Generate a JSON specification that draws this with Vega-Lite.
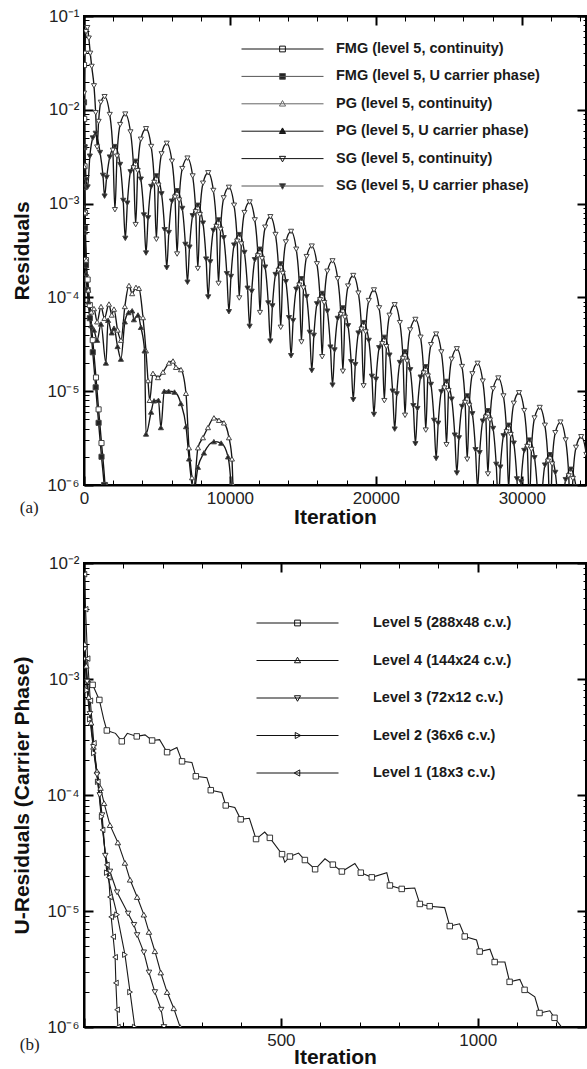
{
"$schema": "https://vega.github.io/schema/vega-lite/v6.json",
"padding": {"left": 10, "top": 6, "right": 0, "bottom": 0},
"spacing": 25,
"config": {
 "view": {"stroke": "#000", "strokeWidth": 2},
 "axis": {"domainColor": "#000", "domainWidth": 2, "tickColor": "#000", "labelFont": "Liberation Sans", "labelFontSize": 17, "labelColor": "#222", "titleFont": "Liberation Sans", "titleFontSize": 21, "titleFontWeight": "bold", "titleColor": "#111", "grid": false, "labelFlush": false, "labelOverlap": false, "labelBound": false},
 "legend": {"labelFont": "Liberation Sans", "labelFontWeight": "bold", "labelFontSize": 14.5, "labelColor": "#1a1a1a", "padding": 0, "labelLimit": 400}
},
"datasets": {
"top": [
{"s":"FMGc","x":3,"y":3.0e-2},{"s":"FMGc","x":15,"y":8e-3},{"s":"FMGc","x":35,"y":2.5e-3},{"s":"FMGc","x":70,"y":8e-4},{"s":"FMGc","x":137,"y":2.5e-4},{"s":"FMGc","x":250,"y":1.55e-4},{"s":"FMGc","x":400,"y":8.3e-5},{"s":"FMGc","x":600,"y":3.5e-5},{"s":"FMGc","x":822,"y":1.4e-5},{"s":"FMGc","x":1000,"y":6.4e-6},{"s":"FMGc","x":1200,"y":2.8e-6},{"s":"FMGc","x":1440,"y":1.0e-6},{"s":"FMGc","x":1500,"y":7e-7},
{"s":"FMGu","x":3,"y":1.2e-2},{"s":"FMGu","x":15,"y":4e-3},{"s":"FMGu","x":35,"y":1.5e-3},{"s":"FMGu","x":70,"y":5.5e-4},{"s":"FMGu","x":137,"y":2.2e-4},{"s":"FMGu","x":250,"y":1.2e-4},{"s":"FMGu","x":400,"y":6.0e-5},{"s":"FMGu","x":600,"y":2.6e-5},{"s":"FMGu","x":800,"y":1.1e-5},{"s":"FMGu","x":1000,"y":4.6e-6},{"s":"FMGu","x":1200,"y":2.0e-6},{"s":"FMGu","x":1380,"y":1.0e-6},{"s":"FMGu","x":1450,"y":7e-7},
{"s":"PGc","x":3,"y":2.5e-3},{"s":"PGc","x":20,"y":1.5e-3},{"s":"PGc","x":60,"y":8e-4},{"s":"PGc","x":150,"y":2.5e-4},{"s":"PGc","x":300,"y":1.2e-4},{"s":"PGc","x":500,"y":7e-5},{"s":"PGc","x":685,"y":7.6e-5},{"s":"PGc","x":900,"y":5.5e-5},{"s":"PGc","x":1165,"y":8.0e-5},{"s":"PGc","x":1400,"y":6.0e-5},{"s":"PGc","x":1712,"y":8.5e-5},{"s":"PGc","x":1900,"y":6.5e-5},{"s":"PGc","x":2055,"y":7.5e-5},{"s":"PGc","x":2300,"y":4.5e-5},{"s":"PGc","x":2535,"y":3.5e-5},{"s":"PGc","x":2800,"y":8.0e-5},{"s":"PGc","x":3083,"y":1.34e-4},{"s":"PGc","x":3300,"y":1.1e-4},{"s":"PGc","x":3562,"y":1.28e-4},{"s":"PGc","x":3768,"y":1.25e-4},{"s":"PGc","x":4042,"y":6.1e-5},{"s":"PGc","x":4247,"y":2.7e-5},{"s":"PGc","x":4384,"y":1.3e-5},{"s":"PGc","x":4500,"y":8.0e-6},{"s":"PGc","x":4726,"y":1.55e-5},{"s":"PGc","x":5069,"y":1.4e-5},{"s":"PGc","x":5412,"y":1.6e-5},{"s":"PGc","x":5822,"y":2.0e-5},{"s":"PGc","x":6100,"y":2.1e-5},{"s":"PGc","x":6302,"y":1.8e-5},{"s":"PGc","x":6645,"y":1.7e-5},{"s":"PGc","x":6987,"y":9.5e-6},{"s":"PGc","x":7193,"y":2.5e-6},{"s":"PGc","x":7400,"y":1.2e-6},{"s":"PGc","x":7500,"y":8.5e-7},{"s":"PGc","x":7809,"y":2.5e-6},{"s":"PGc","x":8152,"y":3.2e-6},{"s":"PGc","x":8494,"y":4.1e-6},{"s":"PGc","x":8905,"y":5.2e-6},{"s":"PGc","x":9248,"y":4.9e-6},{"s":"PGc","x":9590,"y":4.6e-6},{"s":"PGc","x":9933,"y":3.2e-6},{"s":"PGc","x":10138,"y":1.9e-6},{"s":"PGc","x":10207,"y":1.0e-6},{"s":"PGc","x":10300,"y":5e-7},
{"s":"PGu","x":3,"y":1.5e-3},{"s":"PGu","x":20,"y":9e-4},{"s":"PGu","x":60,"y":5e-4},{"s":"PGu","x":150,"y":1.8e-4},{"s":"PGu","x":300,"y":9e-5},{"s":"PGu","x":500,"y":5e-5},{"s":"PGu","x":685,"y":4.5e-5},{"s":"PGu","x":900,"y":3.5e-5},{"s":"PGu","x":1165,"y":5.2e-5},{"s":"PGu","x":1500,"y":2.0e-5},{"s":"PGu","x":1650,"y":5.7e-5},{"s":"PGu","x":1900,"y":4.2e-5},{"s":"PGu","x":2055,"y":4.7e-5},{"s":"PGu","x":2300,"y":3.0e-5},{"s":"PGu","x":2530,"y":2.2e-5},{"s":"PGu","x":2800,"y":5.5e-5},{"s":"PGu","x":3050,"y":6.9e-5},{"s":"PGu","x":3300,"y":7.2e-5},{"s":"PGu","x":3420,"y":5.8e-5},{"s":"PGu","x":3700,"y":6.5e-5},{"s":"PGu","x":3900,"y":4.8e-5},{"s":"PGu","x":4150,"y":2.7e-5},{"s":"PGu","x":4250,"y":3.5e-6},{"s":"PGu","x":4600,"y":6.0e-6},{"s":"PGu","x":4800,"y":7.9e-6},{"s":"PGu","x":5100,"y":8.0e-6},{"s":"PGu","x":5270,"y":4.1e-6},{"s":"PGu","x":5500,"y":1.0e-5},{"s":"PGu","x":5800,"y":1.0e-5},{"s":"PGu","x":6200,"y":9.8e-6},{"s":"PGu","x":6640,"y":7.4e-6},{"s":"PGu","x":6990,"y":4.2e-6},{"s":"PGu","x":7200,"y":1.9e-6},{"s":"PGu","x":7400,"y":1.0e-6},{"s":"PGu","x":7500,"y":8e-7},{"s":"PGu","x":7809,"y":1.55e-6},{"s":"PGu","x":8220,"y":2.2e-6},{"s":"PGu","x":8900,"y":2.9e-6},{"s":"PGu","x":9400,"y":2.8e-6},{"s":"PGu","x":9870,"y":2.0e-6},{"s":"PGu","x":10080,"y":1.0e-6},{"s":"PGu","x":10200,"y":5e-7},
{"s":"SGc","x":5,"y":1.5e-2},{"s":"SGc","x":60,"y":4.0e-2},{"s":"SGc","x":140,"y":6.8e-2},{"s":"SGc","x":226,"y":7.5e-2},{"s":"SGc","x":330,"y":5.8e-2},{"s":"SGc","x":430,"y":4.0e-2},{"s":"SGc","x":527,"y":2.9e-2},{"s":"SGc","x":685,"y":1.8e-2},{"s":"SGc","x":800,"y":9.3e-3},
{"s":"SGc","x":900,"y":4.0e-3},{"s":"SGc","x":1000,"y":7.5e-3},{"s":"SGc","x":1150,"y":1.2e-2},{"s":"SGc","x":1410,"y":1.38e-2},{"s":"SGc","x":1765,"y":8.9e-3},{"s":"SGc","x":1978,"y":3.7e-3},
{"s":"SGc","x":2120,"y":8.6e-4},{"s":"SGc","x":2262,"y":3.2e-3},{"s":"SGc","x":2475,"y":6.95e-3},{"s":"SGc","x":2830,"y":9.0e-3},{"s":"SGc","x":3185,"y":5.8e-3},{"s":"SGc","x":3398,"y":2.4e-3},
{"s":"SGc","x":3540,"y":5.97e-4},{"s":"SGc","x":3682,"y":2.24e-3},{"s":"SGc","x":3895,"y":4.85e-3},{"s":"SGc","x":4250,"y":6.28e-3},{"s":"SGc","x":4605,"y":4.06e-3},{"s":"SGc","x":4818,"y":1.68e-3},
{"s":"SGc","x":4960,"y":4.17e-4},{"s":"SGc","x":5102,"y":1.57e-3},{"s":"SGc","x":5315,"y":3.39e-3},{"s":"SGc","x":5670,"y":4.39e-3},{"s":"SGc","x":6025,"y":2.83e-3},{"s":"SGc","x":6238,"y":1.17e-3},
{"s":"SGc","x":6380,"y":2.90e-4},{"s":"SGc","x":6522,"y":1.09e-3},{"s":"SGc","x":6735,"y":2.36e-3},{"s":"SGc","x":7090,"y":3.05e-3},{"s":"SGc","x":7445,"y":1.97e-3},{"s":"SGc","x":7658,"y":8.17e-4},
{"s":"SGc","x":7800,"y":2.03e-4},{"s":"SGc","x":7942,"y":7.62e-4},{"s":"SGc","x":8155,"y":1.65e-3},{"s":"SGc","x":8510,"y":2.13e-3},{"s":"SGc","x":8865,"y":1.38e-3},{"s":"SGc","x":9078,"y":5.70e-4},
{"s":"SGc","x":9220,"y":1.41e-4},{"s":"SGc","x":9362,"y":5.31e-4},{"s":"SGc","x":9575,"y":1.15e-3},{"s":"SGc","x":9930,"y":1.49e-3},{"s":"SGc","x":10285,"y":9.60e-4},{"s":"SGc","x":10498,"y":3.97e-4},
{"s":"SGc","x":10640,"y":9.86e-5},{"s":"SGc","x":10782,"y":3.71e-4},{"s":"SGc","x":10995,"y":8.02e-4},{"s":"SGc","x":11350,"y":1.04e-3},{"s":"SGc","x":11705,"y":6.70e-4},{"s":"SGc","x":11918,"y":2.77e-4},
{"s":"SGc","x":12060,"y":6.89e-5},{"s":"SGc","x":12202,"y":2.59e-4},{"s":"SGc","x":12415,"y":5.60e-4},{"s":"SGc","x":12770,"y":7.24e-4},{"s":"SGc","x":13125,"y":4.68e-4},{"s":"SGc","x":13338,"y":1.94e-4},
{"s":"SGc","x":13480,"y":4.80e-5},{"s":"SGc","x":13622,"y":1.80e-4},{"s":"SGc","x":13835,"y":3.90e-4},{"s":"SGc","x":14190,"y":5.05e-4},{"s":"SGc","x":14545,"y":3.26e-4},{"s":"SGc","x":14758,"y":1.35e-4},
{"s":"SGc","x":14900,"y":3.35e-5},{"s":"SGc","x":15042,"y":1.26e-4},{"s":"SGc","x":15255,"y":2.72e-4},{"s":"SGc","x":15610,"y":3.52e-4},{"s":"SGc","x":15965,"y":2.28e-4},{"s":"SGc","x":16178,"y":9.42e-5},
{"s":"SGc","x":16320,"y":2.33e-5},{"s":"SGc","x":16462,"y":8.77e-5},{"s":"SGc","x":16675,"y":1.90e-4},{"s":"SGc","x":17030,"y":2.45e-4},{"s":"SGc","x":17385,"y":1.58e-4},{"s":"SGc","x":17598,"y":6.56e-5},
{"s":"SGc","x":17740,"y":1.63e-5},{"s":"SGc","x":17882,"y":6.12e-5},{"s":"SGc","x":18095,"y":1.32e-4},{"s":"SGc","x":18450,"y":1.71e-4},{"s":"SGc","x":18805,"y":1.11e-4},{"s":"SGc","x":19018,"y":4.58e-5},
{"s":"SGc","x":19160,"y":1.14e-5},{"s":"SGc","x":19302,"y":4.28e-5},{"s":"SGc","x":19515,"y":9.25e-5},{"s":"SGc","x":19870,"y":1.20e-4},{"s":"SGc","x":20225,"y":7.73e-5},{"s":"SGc","x":20438,"y":3.20e-5},
{"s":"SGc","x":20580,"y":7.93e-6},{"s":"SGc","x":20722,"y":2.98e-5},{"s":"SGc","x":20935,"y":6.44e-5},{"s":"SGc","x":21290,"y":8.34e-5},{"s":"SGc","x":21645,"y":5.38e-5},{"s":"SGc","x":21858,"y":2.23e-5},
{"s":"SGc","x":22000,"y":5.53e-6},{"s":"SGc","x":22142,"y":2.08e-5},{"s":"SGc","x":22355,"y":4.50e-5},{"s":"SGc","x":22710,"y":5.82e-5},{"s":"SGc","x":23065,"y":3.76e-5},{"s":"SGc","x":23278,"y":1.56e-5},
{"s":"SGc","x":23420,"y":3.85e-6},{"s":"SGc","x":23562,"y":1.45e-5},{"s":"SGc","x":23775,"y":3.13e-5},{"s":"SGc","x":24130,"y":4.06e-5},{"s":"SGc","x":24485,"y":2.62e-5},{"s":"SGc","x":24698,"y":1.08e-5},
{"s":"SGc","x":24840,"y":2.69e-6},{"s":"SGc","x":24982,"y":1.01e-5},{"s":"SGc","x":25195,"y":2.19e-5},{"s":"SGc","x":25550,"y":2.83e-5},{"s":"SGc","x":25905,"y":1.83e-5},{"s":"SGc","x":26118,"y":7.57e-6},
{"s":"SGc","x":26260,"y":1.88e-6},{"s":"SGc","x":26402,"y":7.06e-6},{"s":"SGc","x":26615,"y":1.53e-5},{"s":"SGc","x":26970,"y":1.98e-5},{"s":"SGc","x":27325,"y":1.28e-5},{"s":"SGc","x":27538,"y":5.28e-6},
{"s":"SGc","x":27680,"y":1.31e-6},{"s":"SGc","x":27822,"y":4.92e-6},{"s":"SGc","x":28035,"y":1.06e-5},{"s":"SGc","x":28390,"y":1.38e-5},{"s":"SGc","x":28745,"y":8.89e-6},{"s":"SGc","x":28958,"y":3.68e-6},
{"s":"SGc","x":29100,"y":9.14e-7},{"s":"SGc","x":29242,"y":3.44e-6},{"s":"SGc","x":29455,"y":7.43e-6},{"s":"SGc","x":29810,"y":9.62e-6},{"s":"SGc","x":30165,"y":6.21e-6},{"s":"SGc","x":30378,"y":2.57e-6},
{"s":"SGc","x":30520,"y":6.37e-7},{"s":"SGc","x":30662,"y":2.39e-6},{"s":"SGc","x":30875,"y":5.18e-6},{"s":"SGc","x":31230,"y":6.70e-6},{"s":"SGc","x":31585,"y":4.33e-6},{"s":"SGc","x":31798,"y":1.79e-6},
{"s":"SGc","x":31940,"y":4.45e-7},{"s":"SGc","x":32082,"y":1.67e-6},{"s":"SGc","x":32295,"y":3.61e-6},{"s":"SGc","x":32650,"y":4.68e-6},{"s":"SGc","x":33005,"y":3.02e-6},{"s":"SGc","x":33218,"y":1.25e-6},
{"s":"SGc","x":33360,"y":3.10e-7},{"s":"SGc","x":33502,"y":1.17e-6},{"s":"SGc","x":33715,"y":2.52e-6},{"s":"SGc","x":34070,"y":3.27e-6},{"s":"SGc","x":34425,"y":2.11e-6},{"s":"SGc","x":34638,"y":8.73e-7},{"s":"SGc","x":34780,"y":2.5e-7},
{"s":"SGu","x":5,"y":1.2e-2},{"s":"SGu","x":60,"y":4.0e-3},{"s":"SGu","x":150,"y":1.8e-3},{"s":"SGu","x":250,"y":1.5e-3},{"s":"SGu","x":400,"y":3.2e-3},{"s":"SGu","x":600,"y":5.0e-3},{"s":"SGu","x":800,"y":5.6e-3},{"s":"SGu","x":1100,"y":3.5e-3},{"s":"SGu","x":1300,"y":2.0e-3},
{"s":"SGu","x":1410,"y":1.2e-3},{"s":"SGu","x":1552,"y":1.9e-3},{"s":"SGu","x":1765,"y":3.13e-3},{"s":"SGu","x":2120,"y":4.05e-3},{"s":"SGu","x":2475,"y":2.61e-3},{"s":"SGu","x":2688,"y":1.08e-3},
{"s":"SGu","x":2830,"y":4.26e-4},{"s":"SGu","x":2972,"y":1.01e-3},{"s":"SGu","x":3185,"y":2.18e-3},{"s":"SGu","x":3540,"y":2.82e-3},{"s":"SGu","x":3895,"y":1.82e-3},{"s":"SGu","x":4108,"y":7.55e-4},
{"s":"SGu","x":4250,"y":2.97e-4},{"s":"SGu","x":4392,"y":7.05e-4},{"s":"SGu","x":4605,"y":1.52e-3},{"s":"SGu","x":4960,"y":1.97e-3},{"s":"SGu","x":5315,"y":1.27e-3},{"s":"SGu","x":5528,"y":5.27e-4},
{"s":"SGu","x":5670,"y":2.07e-4},{"s":"SGu","x":5812,"y":4.91e-4},{"s":"SGu","x":6025,"y":1.06e-3},{"s":"SGu","x":6380,"y":1.37e-3},{"s":"SGu","x":6735,"y":8.87e-4},{"s":"SGu","x":6948,"y":3.67e-4},
{"s":"SGu","x":7090,"y":1.45e-4},{"s":"SGu","x":7232,"y":3.43e-4},{"s":"SGu","x":7445,"y":7.41e-4},{"s":"SGu","x":7800,"y":9.59e-4},{"s":"SGu","x":8155,"y":6.19e-4},{"s":"SGu","x":8368,"y":2.56e-4},
{"s":"SGu","x":8510,"y":1.01e-4},{"s":"SGu","x":8652,"y":2.39e-4},{"s":"SGu","x":8865,"y":5.16e-4},{"s":"SGu","x":9220,"y":6.68e-4},{"s":"SGu","x":9575,"y":4.32e-4},{"s":"SGu","x":9788,"y":1.79e-4},
{"s":"SGu","x":9930,"y":7.03e-5},{"s":"SGu","x":10072,"y":1.67e-4},{"s":"SGu","x":10285,"y":3.61e-4},{"s":"SGu","x":10640,"y":4.67e-4},{"s":"SGu","x":10995,"y":3.01e-4},{"s":"SGu","x":11208,"y":1.25e-4},
{"s":"SGu","x":11350,"y":4.91e-5},{"s":"SGu","x":11492,"y":1.16e-4},{"s":"SGu","x":11705,"y":2.52e-4},{"s":"SGu","x":12060,"y":3.26e-4},{"s":"SGu","x":12415,"y":2.10e-4},{"s":"SGu","x":12628,"y":8.71e-5},
{"s":"SGu","x":12770,"y":3.42e-5},{"s":"SGu","x":12912,"y":8.11e-5},{"s":"SGu","x":13125,"y":1.75e-4},{"s":"SGu","x":13480,"y":2.27e-4},{"s":"SGu","x":13835,"y":1.47e-4},{"s":"SGu","x":14048,"y":6.07e-5},
{"s":"SGu","x":14190,"y":2.39e-5},{"s":"SGu","x":14332,"y":5.66e-5},{"s":"SGu","x":14545,"y":1.22e-4},{"s":"SGu","x":14900,"y":1.58e-4},{"s":"SGu","x":15255,"y":1.02e-4},{"s":"SGu","x":15468,"y":4.24e-5},
{"s":"SGu","x":15610,"y":1.66e-5},{"s":"SGu","x":15752,"y":3.94e-5},{"s":"SGu","x":15965,"y":8.53e-5},{"s":"SGu","x":16320,"y":1.10e-4},{"s":"SGu","x":16675,"y":7.13e-5},{"s":"SGu","x":16888,"y":2.95e-5},
{"s":"SGu","x":17030,"y":1.16e-5},{"s":"SGu","x":17172,"y":2.75e-5},{"s":"SGu","x":17385,"y":5.96e-5},{"s":"SGu","x":17740,"y":7.71e-5},{"s":"SGu","x":18095,"y":4.98e-5},{"s":"SGu","x":18308,"y":2.06e-5},
{"s":"SGu","x":18450,"y":8.11e-6},{"s":"SGu","x":18592,"y":1.92e-5},{"s":"SGu","x":18805,"y":4.16e-5},{"s":"SGu","x":19160,"y":5.38e-5},{"s":"SGu","x":19515,"y":3.48e-5},{"s":"SGu","x":19728,"y":1.44e-5},
{"s":"SGu","x":19870,"y":5.65e-6},{"s":"SGu","x":20012,"y":1.34e-5},{"s":"SGu","x":20225,"y":2.90e-5},{"s":"SGu","x":20580,"y":3.75e-5},{"s":"SGu","x":20935,"y":2.42e-5},{"s":"SGu","x":21148,"y":1.00e-5},
{"s":"SGu","x":21290,"y":3.94e-6},{"s":"SGu","x":21432,"y":9.35e-6},{"s":"SGu","x":21645,"y":2.02e-5},{"s":"SGu","x":22000,"y":2.62e-5},{"s":"SGu","x":22355,"y":1.69e-5},{"s":"SGu","x":22568,"y":7.00e-6},
{"s":"SGu","x":22710,"y":2.75e-6},{"s":"SGu","x":22852,"y":6.52e-6},{"s":"SGu","x":23065,"y":1.41e-5},{"s":"SGu","x":23420,"y":1.82e-5},{"s":"SGu","x":23775,"y":1.18e-5},{"s":"SGu","x":23988,"y":4.88e-6},
{"s":"SGu","x":24130,"y":1.92e-6},{"s":"SGu","x":24272,"y":4.55e-6},{"s":"SGu","x":24485,"y":9.84e-6},{"s":"SGu","x":24840,"y":1.27e-5},{"s":"SGu","x":25195,"y":8.22e-6},{"s":"SGu","x":25408,"y":3.40e-6},
{"s":"SGu","x":25550,"y":1.34e-6},{"s":"SGu","x":25692,"y":3.18e-6},{"s":"SGu","x":25905,"y":6.87e-6},{"s":"SGu","x":26260,"y":8.89e-6},{"s":"SGu","x":26615,"y":5.74e-6},{"s":"SGu","x":26828,"y":2.38e-6},
{"s":"SGu","x":26970,"y":9.33e-7},{"s":"SGu","x":27112,"y":2.21e-6},{"s":"SGu","x":27325,"y":4.79e-6},{"s":"SGu","x":27680,"y":6.19e-6},{"s":"SGu","x":28035,"y":4.00e-6},{"s":"SGu","x":28248,"y":1.66e-6},
{"s":"SGu","x":28390,"y":6.52e-7},{"s":"SGu","x":28532,"y":1.55e-6},{"s":"SGu","x":28745,"y":3.34e-6},{"s":"SGu","x":29100,"y":4.33e-6},{"s":"SGu","x":29455,"y":2.79e-6},{"s":"SGu","x":29668,"y":1.16e-6},
{"s":"SGu","x":29810,"y":4.54e-7},{"s":"SGu","x":29952,"y":1.08e-6},{"s":"SGu","x":30165,"y":2.33e-6},{"s":"SGu","x":30520,"y":3.01e-6},{"s":"SGu","x":30875,"y":1.95e-6},{"s":"SGu","x":31088,"y":8.05e-7},
{"s":"SGu","x":31230,"y":3.17e-7},{"s":"SGu","x":31372,"y":7.52e-7},{"s":"SGu","x":31585,"y":1.63e-6},{"s":"SGu","x":31940,"y":2.10e-6},{"s":"SGu","x":32295,"y":1.36e-6},{"s":"SGu","x":32508,"y":5.62e-7},
{"s":"SGu","x":32650,"y":2.21e-7},{"s":"SGu","x":32792,"y":5.25e-7},{"s":"SGu","x":33005,"y":1.14e-6},{"s":"SGu","x":33360,"y":1.47e-6},{"s":"SGu","x":33715,"y":9.48e-7},{"s":"SGu","x":33928,"y":3.93e-7},
{"s":"SGu","x":34070,"y":1.54e-7},{"s":"SGu","x":34212,"y":3.66e-7},{"s":"SGu","x":34425,"y":7.91e-7},{"s":"SGu","x":34780,"y":1.02e-6}
],
"bl": [
{"s":"L5","x":10,"y":1.0e-3},{"s":"L5","x":22,"y":8.9e-4},{"s":"L5","x":39,"y":6.6e-4},{"s":"L5","x":50,"y":4.5e-4},{"s":"L5","x":58,"y":3.6e-4},{"s":"L5","x":80,"y":3.4e-4},{"s":"L5","x":96,"y":2.9e-4},{"s":"L5","x":110,"y":3.4e-4},{"s":"L5","x":134,"y":3.2e-4},{"s":"L5","x":155,"y":3.3e-4},{"s":"L5","x":173,"y":2.95e-4},{"s":"L5","x":192,"y":3.0e-4},{"s":"L5","x":211,"y":2.34e-4},{"s":"L5","x":236,"y":2.57e-4},{"s":"L5","x":249,"y":1.95e-4},{"s":"L5","x":274,"y":1.91e-4},{"s":"L5","x":284,"y":1.45e-4},{"s":"L5","x":312,"y":1.41e-4},{"s":"L5","x":322,"y":1.10e-4},{"s":"L5","x":350,"y":1.05e-4},{"s":"L5","x":360,"y":8.13e-5},{"s":"L5","x":383,"y":7.8e-5},{"s":"L5","x":398,"y":6.17e-5},{"s":"L5","x":420,"y":6.3e-5},{"s":"L5","x":437,"y":4.17e-5},{"s":"L5","x":459,"y":4.79e-5},{"s":"L5","x":472,"y":4.27e-5},{"s":"L5","x":503,"y":3.09e-5},{"s":"L5","x":510,"y":2.63e-5},{"s":"L5","x":523,"y":2.95e-5},{"s":"L5","x":545,"y":3.16e-5},{"s":"L5","x":561,"y":2.75e-5},{"s":"L5","x":587,"y":2.29e-5},{"s":"L5","x":612,"y":2.82e-5},{"s":"L5","x":632,"y":2.51e-5},{"s":"L5","x":655,"y":2.19e-5},{"s":"L5","x":688,"y":2.57e-5},{"s":"L5","x":703,"y":2.14e-5},{"s":"L5","x":731,"y":1.95e-5},{"s":"L5","x":769,"y":2.14e-5},{"s":"L5","x":777,"y":1.66e-5},{"s":"L5","x":807,"y":1.55e-5},{"s":"L5","x":840,"y":1.58e-5},{"s":"L5","x":853,"y":1.15e-5},{"s":"L5","x":878,"y":1.10e-5},{"s":"L5","x":916,"y":1.07e-5},{"s":"L5","x":929,"y":7.41e-6},{"s":"L5","x":954,"y":7.76e-6},{"s":"L5","x":967,"y":6.03e-6},{"s":"L5","x":997,"y":5.62e-6},{"s":"L5","x":1005,"y":4.47e-6},{"s":"L5","x":1031,"y":4.68e-6},{"s":"L5","x":1043,"y":3.63e-6},{"s":"L5","x":1069,"y":3.63e-6},{"s":"L5","x":1081,"y":2.45e-6},{"s":"L5","x":1107,"y":2.57e-6},{"s":"L5","x":1119,"y":2.09e-6},{"s":"L5","x":1145,"y":1.82e-6},{"s":"L5","x":1157,"y":1.32e-6},{"s":"L5","x":1183,"y":1.38e-6},{"s":"L5","x":1195,"y":1.20e-6},{"s":"L5","x":1213,"y":1.0e-6},{"s":"L5","x":1240,"y":7.0e-7},
{"s":"L4","x":2,"y":2.0e-3},{"s":"L4","x":6,"y":1.3e-3},{"s":"L4","x":12,"y":7.0e-4},{"s":"L4","x":18,"y":4.2e-4},{"s":"L4","x":24,"y":2.6e-4},{"s":"L4","x":33,"y":1.6e-4},{"s":"L4","x":42,"y":1.15e-4},{"s":"L4","x":51,"y":8.5e-5},{"s":"L4","x":66,"y":5.5e-5},{"s":"L4","x":86,"y":3.9e-5},{"s":"L4","x":104,"y":2.6e-5},{"s":"L4","x":117,"y":1.86e-5},{"s":"L4","x":135,"y":1.32e-5},{"s":"L4","x":152,"y":9.3e-6},{"s":"L4","x":165,"y":6.6e-6},{"s":"L4","x":180,"y":4.5e-6},{"s":"L4","x":195,"y":2.95e-6},{"s":"L4","x":211,"y":2.0e-6},{"s":"L4","x":228,"y":1.45e-6},{"s":"L4","x":244,"y":1.0e-6},
{"s":"L3","x":2,"y":1.8e-3},{"s":"L3","x":8,"y":9.5e-4},{"s":"L3","x":15,"y":5.0e-4},{"s":"L3","x":24,"y":2.6e-4},{"s":"L3","x":33,"y":1.5e-4},{"s":"L3","x":40,"y":1.0e-4},{"s":"L3","x":46,"y":6.7e-5},{"s":"L3","x":54,"y":3.0e-5},{"s":"L3","x":66,"y":2.19e-5},{"s":"L3","x":84,"y":1.45e-5},{"s":"L3","x":112,"y":9.5e-6},{"s":"L3","x":127,"y":7.6e-6},{"s":"L3","x":135,"y":6.2e-6},{"s":"L3","x":152,"y":4.4e-6},{"s":"L3","x":165,"y":2.95e-6},{"s":"L3","x":180,"y":2.0e-6},{"s":"L3","x":196,"y":1.41e-6},{"s":"L3","x":203,"y":1.0e-6},
{"s":"L2","x":2,"y":1.5e-3},{"s":"L2","x":8,"y":8.0e-4},{"s":"L2","x":15,"y":4.5e-4},{"s":"L2","x":25,"y":2.3e-4},{"s":"L2","x":35,"y":1.3e-4},{"s":"L2","x":45,"y":6.5e-5},{"s":"L2","x":58,"y":2.14e-5},{"s":"L2","x":84,"y":9.3e-6},{"s":"L2","x":104,"y":4.2e-6},{"s":"L2","x":117,"y":2.0e-6},{"s":"L2","x":129,"y":1.0e-6},
{"s":"L1","x":1,"y":8.0e-3},{"s":"L1","x":4,"y":4.0e-3},{"s":"L1","x":9,"y":1.5e-3},{"s":"L1","x":16,"y":6.5e-4},{"s":"L1","x":25,"y":2.8e-4},{"s":"L1","x":35,"y":1.3e-4},{"s":"L1","x":47,"y":5.0e-5},{"s":"L1","x":58,"y":2.5e-5},{"s":"L1","x":63,"y":1.95e-5},{"s":"L1","x":66,"y":1.32e-5},{"s":"L1","x":69,"y":8.9e-6},{"s":"L1","x":74,"y":6.0e-6},{"s":"L1","x":79,"y":4.0e-6},{"s":"L1","x":81,"y":2.4e-6},{"s":"L1","x":84,"y":1.41e-6},{"s":"L1","x":86,"y":1.0e-6}
],
"bm": [
{"s":"L5","x":22,"y":8.9e-4},{"s":"L5","x":39,"y":6.6e-4},{"s":"L5","x":58,"y":3.6e-4},{"s":"L5","x":96,"y":2.9e-4},{"s":"L5","x":134,"y":3.2e-4},{"s":"L5","x":173,"y":2.95e-4},{"s":"L5","x":211,"y":2.34e-4},{"s":"L5","x":249,"y":1.95e-4},{"s":"L5","x":284,"y":1.45e-4},{"s":"L5","x":322,"y":1.10e-4},{"s":"L5","x":360,"y":8.13e-5},{"s":"L5","x":398,"y":6.17e-5},{"s":"L5","x":437,"y":4.17e-5},{"s":"L5","x":472,"y":4.27e-5},{"s":"L5","x":503,"y":3.09e-5},{"s":"L5","x":523,"y":2.95e-5},{"s":"L5","x":561,"y":2.75e-5},{"s":"L5","x":587,"y":2.29e-5},{"s":"L5","x":632,"y":2.51e-5},{"s":"L5","x":655,"y":2.19e-5},{"s":"L5","x":703,"y":2.14e-5},{"s":"L5","x":731,"y":1.95e-5},{"s":"L5","x":777,"y":1.66e-5},{"s":"L5","x":807,"y":1.55e-5},{"s":"L5","x":853,"y":1.15e-5},{"s":"L5","x":878,"y":1.10e-5},{"s":"L5","x":929,"y":7.41e-6},{"s":"L5","x":967,"y":6.03e-6},{"s":"L5","x":1005,"y":4.47e-6},{"s":"L5","x":1043,"y":3.63e-6},{"s":"L5","x":1081,"y":2.45e-6},{"s":"L5","x":1119,"y":2.09e-6},{"s":"L5","x":1157,"y":1.32e-6},{"s":"L5","x":1195,"y":1.20e-6},
{"s":"L4","x":2,"y":2.0e-3},{"s":"L4","x":6,"y":1.3e-3},{"s":"L4","x":12,"y":7.0e-4},{"s":"L4","x":18,"y":4.2e-4},{"s":"L4","x":24,"y":2.6e-4},{"s":"L4","x":33,"y":1.6e-4},{"s":"L4","x":42,"y":1.15e-4},{"s":"L4","x":51,"y":8.5e-5},{"s":"L4","x":66,"y":5.5e-5},{"s":"L4","x":86,"y":3.9e-5},{"s":"L4","x":104,"y":2.6e-5},{"s":"L4","x":117,"y":1.86e-5},{"s":"L4","x":135,"y":1.32e-5},{"s":"L4","x":152,"y":9.3e-6},{"s":"L4","x":165,"y":6.6e-6},{"s":"L4","x":180,"y":4.5e-6},{"s":"L4","x":195,"y":2.95e-6},{"s":"L4","x":211,"y":2.0e-6},{"s":"L4","x":228,"y":1.45e-6},{"s":"L4","x":244,"y":1.0e-6},
{"s":"L3","x":2,"y":1.8e-3},{"s":"L3","x":8,"y":9.5e-4},{"s":"L3","x":15,"y":5.0e-4},{"s":"L3","x":24,"y":2.6e-4},{"s":"L3","x":33,"y":1.5e-4},{"s":"L3","x":40,"y":1.0e-4},{"s":"L3","x":46,"y":6.7e-5},{"s":"L3","x":54,"y":3.0e-5},{"s":"L3","x":66,"y":2.19e-5},{"s":"L3","x":84,"y":1.45e-5},{"s":"L3","x":112,"y":9.5e-6},{"s":"L3","x":127,"y":7.6e-6},{"s":"L3","x":135,"y":6.2e-6},{"s":"L3","x":152,"y":4.4e-6},{"s":"L3","x":165,"y":2.95e-6},{"s":"L3","x":180,"y":2.0e-6},{"s":"L3","x":196,"y":1.41e-6},{"s":"L3","x":203,"y":1.0e-6},
{"s":"L2","x":2,"y":1.5e-3},{"s":"L2","x":8,"y":8.0e-4},{"s":"L2","x":15,"y":4.5e-4},{"s":"L2","x":25,"y":2.3e-4},{"s":"L2","x":35,"y":1.3e-4},{"s":"L2","x":45,"y":6.5e-5},{"s":"L2","x":58,"y":2.14e-5},{"s":"L2","x":84,"y":9.3e-6},{"s":"L2","x":104,"y":4.2e-6},{"s":"L2","x":117,"y":2.0e-6},{"s":"L2","x":129,"y":1.0e-6},
{"s":"L1","x":1,"y":8.0e-3},{"s":"L1","x":4,"y":4.0e-3},{"s":"L1","x":9,"y":1.5e-3},{"s":"L1","x":16,"y":6.5e-4},{"s":"L1","x":25,"y":2.8e-4},{"s":"L1","x":35,"y":1.3e-4},{"s":"L1","x":47,"y":5.0e-5},{"s":"L1","x":58,"y":2.5e-5},{"s":"L1","x":63,"y":1.95e-5},{"s":"L1","x":66,"y":1.32e-5},{"s":"L1","x":69,"y":8.9e-6},{"s":"L1","x":74,"y":6.0e-6},{"s":"L1","x":79,"y":4.0e-6},{"s":"L1","x":81,"y":2.4e-6},{"s":"L1","x":84,"y":1.41e-6},{"s":"L1","x":86,"y":1.0e-6}
]
},
"vconcat": [
{
 "width": 502, "height": 469,
 "title": {"text": "(a)", "orient": "bottom", "anchor": "start", "frame": "bounds", "offset": -27, "dx": 8, "font": "Liberation Serif", "fontSize": 17, "fontWeight": "normal", "color": "#222"},
 "layer": [
  {"data": {"name": "top"},
   "mark": {"type": "line", "clip": true, "color": "#151515", "strokeWidth": 1.35, "interpolate": "monotone"},
   "encoding": {
    "x": {"field": "x", "type": "quantitative", "scale": {"domain": [0, 34400], "nice": false, "zero": false},
      "axis": {"orient": "bottom", "title": "Iteration", "titlePadding": -4, "values": [0,2000,4000,6000,8000,10000,12000,14000,16000,18000,20000,22000,24000,26000,28000,30000,32000,34000],
        "labelExpr": "datum.value % 10000 == 0 ? '' + datum.value : ''", "labelPadding": 14,
        "tickSize": {"condition": {"test": "datum.value % 10000 == 0", "value": -9}, "value": -5},
        "tickWidth": {"condition": {"test": "datum.value % 10000 == 0", "value": 2}, "value": 1}}},
    "y": {"field": "y", "type": "quantitative", "scale": {"type": "log", "domain": [1e-6, 0.1], "nice": false},
      "axis": {"orient": "left", "title": "Residuals", "titlePadding": 14, "labelPadding": 14,
        "values": [1e-6,2e-6,3e-6,4e-6,5e-6,6e-6,7e-6,8e-6,9e-6,1e-5,2e-5,3e-5,4e-5,5e-5,6e-5,7e-5,8e-5,9e-5,1e-4,2e-4,3e-4,4e-4,5e-4,6e-4,7e-4,8e-4,9e-4,1e-3,2e-3,3e-3,4e-3,5e-3,6e-3,7e-3,8e-3,9e-3,1e-2,2e-2,3e-2,4e-2,5e-2,6e-2,7e-2,8e-2,9e-2,1e-1],
        "labelExpr": "abs(log(datum.value)/LN10 - round(log(datum.value)/LN10)) < 1e-6 ? '10' + ['⁰','⁻¹','⁻²','⁻³','⁻⁴','⁻⁵','⁻⁶'][-round(log(datum.value)/LN10)] : ''",
        "tickSize": {"condition": {"test": "abs(log(datum.value)/LN10 - round(log(datum.value)/LN10)) < 1e-6", "value": -9}, "value": -5},
        "tickWidth": {"condition": {"test": "abs(log(datum.value)/LN10 - round(log(datum.value)/LN10)) < 1e-6", "value": 2}, "value": 1}}},
    "detail": {"field": "s"}
   }},
  {"data": {"name": "top"},
   "mark": {"type": "point", "clip": true, "size": 26, "stroke": "#444", "strokeWidth": 1, "opacity": 1},
   "encoding": {
    "x": {"field": "x", "type": "quantitative", "axis": null},
    "y": {"field": "y", "type": "quantitative", "axis": null},
    "shape": {"field": "s", "type": "nominal", "scale": {"domain": ["FMGc","FMGu","PGc","PGu","SGc","SGu"], "range": ["square","square","triangle-up","triangle-up","triangle-down","triangle-down"]}, "legend": null},
    "fill": {"field": "s", "type": "nominal", "scale": {"domain": ["FMGc","FMGu","PGc","PGu","SGc","SGu"], "range": ["#ffffff","#222222","#ffffff","#222222","#ffffff","#222222"]}, "legend": null}
   }},
  {"data": {"name": "top"},
   "transform": [{"filter": "false"}],
   "mark": {"type": "point", "opacity": 1},
   "encoding": {
    "x": {"field": "x", "type": "quantitative",
      "axis": {"orient": "top", "title": null, "labels": false, "values": [0,2000,4000,6000,8000,10000,12000,14000,16000,18000,20000,22000,24000,26000,28000,30000,32000,34000],
        "tickSize": {"condition": {"test": "datum.value % 10000 == 0", "value": -9}, "value": -5},
        "tickWidth": {"condition": {"test": "datum.value % 10000 == 0", "value": 2}, "value": 1}}},
    "y": {"field": "y", "type": "quantitative",
      "axis": {"orient": "right", "title": null, "labels": false,
        "values": [1e-6,2e-6,3e-6,4e-6,5e-6,6e-6,7e-6,8e-6,9e-6,1e-5,2e-5,3e-5,4e-5,5e-5,6e-5,7e-5,8e-5,9e-5,1e-4,2e-4,3e-4,4e-4,5e-4,6e-4,7e-4,8e-4,9e-4,1e-3,2e-3,3e-3,4e-3,5e-3,6e-3,7e-3,8e-3,9e-3,1e-2,2e-2,3e-2,4e-2,5e-2,6e-2,7e-2,8e-2,9e-2,1e-1],
        "tickSize": {"condition": {"test": "abs(log(datum.value)/LN10 - round(log(datum.value)/LN10)) < 1e-6", "value": -9}, "value": -3},
        "tickWidth": {"condition": {"test": "abs(log(datum.value)/LN10 - round(log(datum.value)/LN10)) < 1e-6", "value": 2}, "value": 1}}},
    "shape": {"field": "s", "type": "nominal",
      "scale": {"domain": ["FMGc","FMGu","PGc","PGu","SGc","SGu"], "range": ["M-1,0H1M-0.07,-0.07H0.07V0.07H-0.07Z","M-1,0H1M-0.07,-0.07H0.07V0.07H-0.07Z","M-1,0H1M0,-0.08L0.075,0.055H-0.075Z","M-1,0H1M0,-0.08L0.075,0.055H-0.075Z","M-1,0H1M0,0.08L0.075,-0.055H-0.075Z","M-1,0H1M0,0.08L0.075,-0.055H-0.075Z"]},
      "legend": {"orient": "none", "legendX": 157, "legendY": 25, "title": null, "symbolSize": 6724, "symbolStrokeWidth": 1, "clipHeight": 16, "rowPadding": 11.4, "labelOffset": 12, "symbolOpacity": 1,
        "labelExpr": "datum.label == 'FMGc' ? 'FMG (level 5, continuity)' : datum.label == 'FMGu' ? 'FMG (level 5, U carrier phase)' : datum.label == 'PGc' ? 'PG (level 5, continuity)' : datum.label == 'PGu' ? 'PG (level 5, U carrier phase)' : datum.label == 'SGc' ? 'SG (level 5, continuity)' : 'SG (level 5, U carrier phase)'"}},
    "fill": {"field": "s", "type": "nominal", "scale": {"domain": ["FMGc","FMGu","PGc","PGu","SGc","SGu"], "range": ["#ffffff","#222222","#ffffff","#222222","#ffffff","#222222"]}},
    "stroke": {"field": "s", "type": "nominal", "scale": {"domain": ["FMGc","FMGu","PGc","PGu","SGc","SGu"], "range": ["#111111","#555555","#666666","#111111","#111111","#555555"]}}
   }}
 ],
 "resolve": {"scale": {"shape": "independent", "fill": "independent", "stroke": "independent"}, "axis": {"x": "independent", "y": "independent"}}
},
{
 "width": 502, "height": 464,
 "title": {"text": "(b)", "orient": "bottom", "anchor": "start", "frame": "bounds", "offset": -30, "dx": 8, "font": "Liberation Serif", "fontSize": 17, "fontWeight": "normal", "color": "#222"},
 "layer": [
  {"data": {"name": "bl"},
   "mark": {"type": "line", "clip": true, "color": "#1a1a1a", "strokeWidth": 1.1},
   "encoding": {
    "x": {"field": "x", "type": "quantitative", "scale": {"domain": [0, 1275], "nice": false, "zero": false},
      "axis": {"orient": "bottom", "title": "Iteration", "titlePadding": -6, "values": [0,100,200,300,400,500,600,700,800,900,1000,1100,1200],
        "labelExpr": "datum.value == 500 || datum.value == 1000 ? '' + datum.value : ''", "labelPadding": 14,
        "tickSize": {"condition": {"test": "datum.value % 500 == 0", "value": -9}, "value": -5},
        "tickWidth": {"condition": {"test": "datum.value % 500 == 0", "value": 2}, "value": 1}}},
    "y": {"field": "y", "type": "quantitative", "scale": {"type": "log", "domain": [1e-6, 0.01], "nice": false},
      "axis": {"orient": "left", "title": "U-Residuals (Carrier Phase)", "titlePadding": 14, "labelPadding": 14,
        "values": [1e-6,2e-6,3e-6,4e-6,5e-6,6e-6,7e-6,8e-6,9e-6,1e-5,2e-5,3e-5,4e-5,5e-5,6e-5,7e-5,8e-5,9e-5,1e-4,2e-4,3e-4,4e-4,5e-4,6e-4,7e-4,8e-4,9e-4,1e-3,2e-3,3e-3,4e-3,5e-3,6e-3,7e-3,8e-3,9e-3,1e-2],
        "labelExpr": "abs(log(datum.value)/LN10 - round(log(datum.value)/LN10)) < 1e-6 ? '10' + ['⁰','⁻¹','⁻²','⁻³','⁻⁴','⁻⁵','⁻⁶'][-round(log(datum.value)/LN10)] : ''",
        "tickSize": {"condition": {"test": "abs(log(datum.value)/LN10 - round(log(datum.value)/LN10)) < 1e-6", "value": -9}, "value": -5},
        "tickWidth": {"condition": {"test": "abs(log(datum.value)/LN10 - round(log(datum.value)/LN10)) < 1e-6", "value": 2}, "value": 1}}},
    "detail": {"field": "s"}
   }},
  {"data": {"name": "bm"},
   "mark": {"type": "point", "clip": true, "size": 30, "stroke": "#222", "strokeWidth": 0.9, "opacity": 1},
   "encoding": {
    "x": {"field": "x", "type": "quantitative", "axis": null},
    "y": {"field": "y", "type": "quantitative", "axis": null},
    "shape": {"field": "s", "type": "nominal", "scale": {"domain": ["L5","L4","L3","L2","L1"], "range": ["square","triangle-up","triangle-down","triangle-right","triangle-left"]}, "legend": null},
    "fill": {"field": "s", "type": "nominal", "scale": {"domain": ["L5","L4","L3","L2","L1"], "range": ["#ffffff","#ffffff","#ffffff","#ffffff","#ffffff"]}, "legend": null}
   }},
  {"data": {"name": "bl"},
   "transform": [{"filter": "false"}],
   "mark": {"type": "point", "opacity": 1},
   "encoding": {
    "x": {"field": "x", "type": "quantitative",
      "axis": {"orient": "top", "title": null, "labels": false, "values": [0,100,200,300,400,500,600,700,800,900,1000,1100,1200],
        "tickSize": {"condition": {"test": "datum.value % 500 == 0", "value": -9}, "value": -5},
        "tickWidth": {"condition": {"test": "datum.value % 500 == 0", "value": 2}, "value": 1}}},
    "y": {"field": "y", "type": "quantitative",
      "axis": {"orient": "right", "title": null, "labels": false,
        "values": [1e-6,2e-6,3e-6,4e-6,5e-6,6e-6,7e-6,8e-6,9e-6,1e-5,2e-5,3e-5,4e-5,5e-5,6e-5,7e-5,8e-5,9e-5,1e-4,2e-4,3e-4,4e-4,5e-4,6e-4,7e-4,8e-4,9e-4,1e-3,2e-3,3e-3,4e-3,5e-3,6e-3,7e-3,8e-3,9e-3,1e-2],
        "tickSize": {"condition": {"test": "abs(log(datum.value)/LN10 - round(log(datum.value)/LN10)) < 1e-6", "value": -9}, "value": -3},
        "tickWidth": {"condition": {"test": "abs(log(datum.value)/LN10 - round(log(datum.value)/LN10)) < 1e-6", "value": 2}, "value": 1}}},
    "shape": {"field": "s", "type": "nominal",
      "scale": {"domain": ["L5","L4","L3","L2","L1"], "range": ["M-1,0H1M-0.07,-0.07H0.07V0.07H-0.07Z","M-1,0H1M0,-0.08L0.075,0.055H-0.075Z","M-1,0H1M0,0.08L0.075,-0.055H-0.075Z","M-1,0H1M0.08,0L-0.055,0.075V-0.075Z","M-1,0H1M-0.08,0L0.055,0.075V-0.075Z"]},
      "legend": {"orient": "none", "legendX": 172, "legendY": 52, "title": null, "symbolSize": 6724, "symbolStrokeWidth": 1, "clipHeight": 16, "rowPadding": 21.5, "labelOffset": 34, "symbolOpacity": 1,
        "labelExpr": "datum.label == 'L5' ? 'Level 5 (288x48 c.v.)' : datum.label == 'L4' ? 'Level 4 (144x24 c.v.)' : datum.label == 'L3' ? 'Level 3 (72x12 c.v.)' : datum.label == 'L2' ? 'Level 2 (36x6 c.v.)' : 'Level 1 (18x3 c.v.)'"}},
    "fill": {"field": "s", "type": "nominal", "scale": {"domain": ["L5","L4","L3","L2","L1"], "range": ["#ffffff","#ffffff","#ffffff","#ffffff","#ffffff"]}},
    "stroke": {"field": "s", "type": "nominal", "scale": {"domain": ["L5","L4","L3","L2","L1"], "range": ["#111111","#111111","#111111","#111111","#111111"]}}
   }}
 ],
 "resolve": {"scale": {"shape": "independent", "fill": "independent", "stroke": "independent"}, "axis": {"x": "independent", "y": "independent"}}
}
]
}
